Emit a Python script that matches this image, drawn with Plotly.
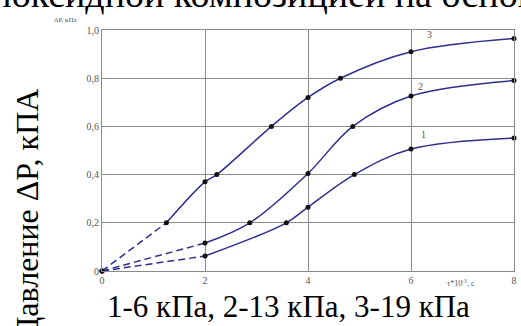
import plotly.graph_objects as go

# Curve 1 (6 kPa)
c1_x = [0, 2.0, 3.58, 4.0, 4.9, 6.0, 8.0]
c1_y = [0, 0.062, 0.20, 0.265, 0.40, 0.506, 0.552]
# Curve 2 (13 kPa)
c2_x = [0, 2.0, 2.87, 4.0, 4.87, 6.0, 8.0]
c2_y = [0, 0.116, 0.20, 0.405, 0.60, 0.726, 0.79]
# Curve 3 (19 kPa)
c3_x = [0, 1.25, 2.0, 2.23, 3.29, 4.0, 4.63, 6.0, 8.0]
c3_y = [0, 0.20, 0.37, 0.40, 0.60, 0.72, 0.80, 0.91, 0.965]
# index where the dashed (extrapolated) part ends
dash_end = {"1": 1, "2": 1, "3": 1}

x_ticks = [0, 2, 4, 6, 8]
x_tick_labels = ["0", "2", "4", "6", "8"]
y_ticks = [0, 0.2, 0.4, 0.6, 0.8, 1.0]
y_tick_labels = ["0", "0,2", "0,4", "0,6", "0,8", "1,0"]

LINE = "#2f2f8f"
SERIF = "Liberation Serif"

fig = go.Figure()
for name, xs, ys in [("1", c1_x, c1_y), ("2", c2_x, c2_y), ("3", c3_x, c3_y)]:
    k = dash_end[name]
    fig.add_trace(go.Scatter(x=xs[:k + 1], y=ys[:k + 1], mode="lines",
                             line=dict(color=LINE, width=1.5, dash="7px,4px"),
                             showlegend=False, hoverinfo="skip", cliponaxis=False))
    fig.add_trace(go.Scatter(x=xs[k:], y=ys[k:], mode="lines",
                             line=dict(color=LINE, width=1.5, shape="spline", smoothing=1.0),
                             showlegend=False, cliponaxis=False))
    fig.add_trace(go.Scatter(x=xs, y=ys, mode="markers",
                             marker=dict(color="#111111", size=5),
                             showlegend=False, cliponaxis=False))

axis_common = dict(showgrid=True, gridcolor="#8a8a8a", gridwidth=1,
                   showline=True, linecolor="#8a8a8a", linewidth=1, mirror=True,
                   zeroline=False, ticks="", ticklabeloverflow="allow",
                   tickfont=dict(family=SERIF, size=10, color="#555555"))
fig.update_xaxes(range=[0, 8], tickvals=x_ticks, ticktext=x_tick_labels, **axis_common)
fig.update_yaxes(range=[0, 1.0], tickvals=y_ticks, ticktext=y_tick_labels, **axis_common)

L, R, T, B = 102, 4, 30, 55
PW, PH = 521 - L - R, 326 - T - B


def px(xp):
    return (xp - L) / PW


def py(yp):
    return (326 - B - yp) / PH


ann = []
# curve number labels
for lbl, xx, yy in [("3", 6.35, 0.98), ("2", 6.18, 0.765), ("1", 6.24, 0.565)]:
    ann.append(dict(x=xx, y=yy, xref="x", yref="y", text=lbl, showarrow=False,
                    font=dict(family=SERIF, size=10, color="#555555")))
# axis small titles
ann.append(dict(x=px(66), y=py(20), xref="paper", yref="paper",
                text="ΔP, кПа", showarrow=False, xanchor="center", yanchor="middle",
                font=dict(family=SERIF, size=7, color="#555555")))
ann.append(dict(x=px(464), y=py(283), xref="paper", yref="paper",
                text="τ*10<sup>-3</sup>, с", showarrow=False, xanchor="center", yanchor="middle",
                font=dict(family=SERIF, size=8, color="#555555")))
# document text around the figure
ann.append(dict(x=px(290), y=py(306), xref="paper", yref="paper",
                text="1-6 кПа, 2-13 кПа, 3-19 кПа", showarrow=False,
                xanchor="center", yanchor="middle",
                font=dict(family=SERIF, size=31, color="#000000")))
ann.append(dict(x=px(26), y=py(214), xref="paper", yref="paper",
                text="Давление ΔP, кПА", showarrow=False, textangle=-90,
                xanchor="center", yanchor="middle",
                font=dict(family=SERIF, size=32, color="#000000")))
ann.append(dict(x=px(-28), y=py(-6), xref="paper", yref="paper",
                text="эпоксидной композицией на основе", showarrow=False,
                xanchor="left", yanchor="middle",
                font=dict(family=SERIF, size=38, color="#000000")))

fig.update_layout(width=521, height=326, margin=dict(l=L, r=R, t=T, b=B),
                  paper_bgcolor="white", plot_bgcolor="white", annotations=ann)

fig.write_html("out.html")
